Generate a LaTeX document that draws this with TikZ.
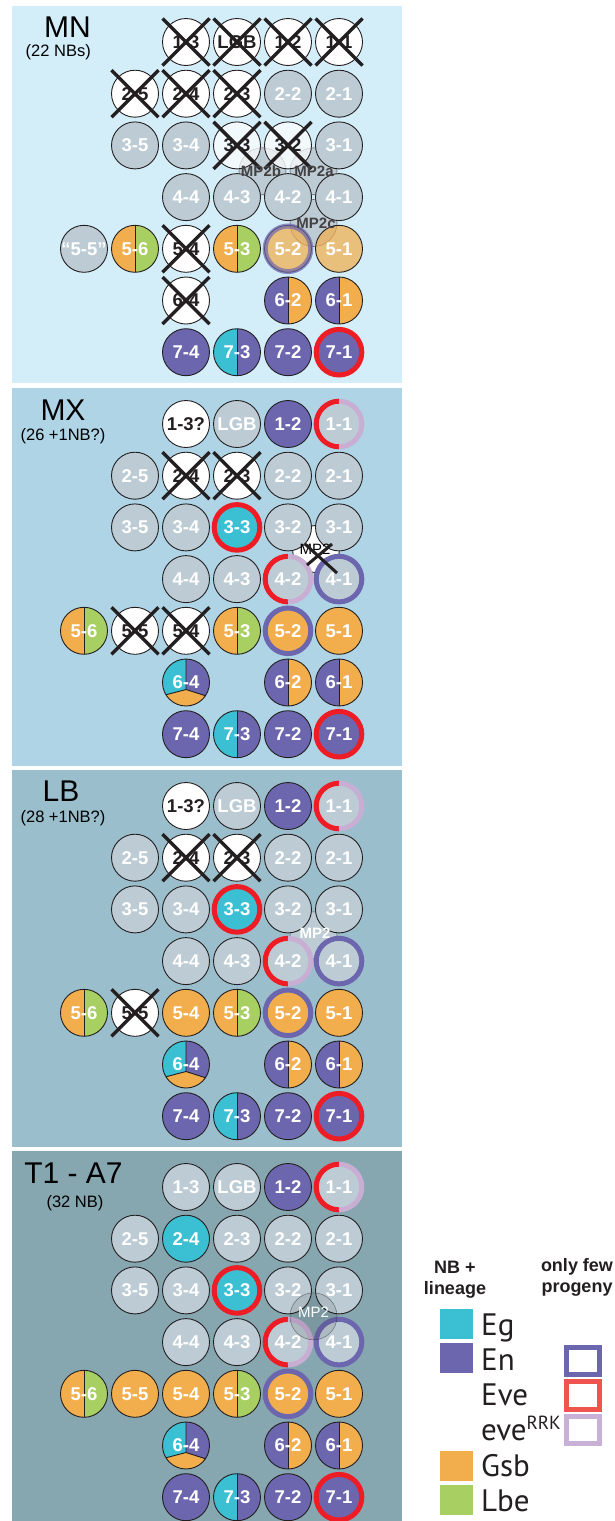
\documentclass[tikz,border=0pt]{standalone}
\usepackage{fontspec}
\setmainfont{Liberation Sans}
\newfontfamily\legfont{PT Sans}
\usetikzlibrary{calc}

\definecolor{bgmn}{HTML}{D3EEF9}
\definecolor{bgmx}{HTML}{AED4E6}
\definecolor{bglb}{HTML}{9BBECC}
\definecolor{bgta}{HTML}{86A6B0}
\definecolor{nbg}{HTML}{BDCCD4}
\definecolor{eg}{HTML}{3BC0D3}
\definecolor{en}{HTML}{6C66AE}
\definecolor{gsb}{HTML}{F2AE4C}
\definecolor{lbe}{HTML}{A7CF62}
\definecolor{eve}{HTML}{EE1D25}
\definecolor{rrk}{HTML}{C9AED4}
\definecolor{ink}{HTML}{231F20}
\definecolor{legred}{HTML}{F0544F}
\definecolor{legrrk}{HTML}{C8B0D6}

\def\cA{339}\def\cB{288}\def\cC{237}\def\cD{186}\def\cE{135}\def\cF{84}
\def\rA{42}\def\rB{93.7}\def\rC{145.4}\def\rD{197.1}\def\rE{248.8}\def\rF{300.5}\def\rG{352.2}

\tikzset{
  nb/.style={circle, draw=ink, line width=0.9pt, minimum size=47pt, inner sep=0pt,
    fill=nbg, text=white, font=\fontsize{18.5}{18.5}\selectfont\bfseries},
  nbw/.style={nb, fill=white, text=ink},
  nbp/.style={nb, fill=en},
  nbc/.style={nb, fill=eg},
  nbo/.style={nb, fill=gsb},
  fade/.style={fill opacity=#1, text opacity=1},
  halfc/.style 2 args={nb, fill=none, path picture={
    \fill[#1] (path picture bounding box.south west) rectangle (path picture bounding box.north);
    \fill[#2] (path picture bounding box.north) rectangle (path picture bounding box.south east);
    \draw[ink, line width=0.9pt] (path picture bounding box.north) -- (path picture bounding box.south);}},
  xline/.style={ink, line width=3.4pt},
  mp2/.style={circle, minimum size=47pt, inner sep=0pt, fill=nbg, draw=ink!70, line width=0.6pt},
  mplab/.style={font=\fontsize{15}{15}\selectfont\bfseries, inner sep=0pt},
  title/.style={font=\fontsize{30}{30}\selectfont, text=black, inner sep=0pt},
  sub/.style={font=\fontsize{16.5}{16.5}\selectfont, text=black, inner sep=0pt},
  legh/.style={font=\fontsize{18}{18}\selectfont\bfseries, text=ink, inner sep=0pt},
  legt/.style={font=\legfont\fontsize{31}{31}\selectfont, text=ink, inner sep=0pt, anchor=base west},
  sq/.style={minimum width=33pt, minimum height=30pt, inner sep=0pt},
  osq/.style={minimum width=33pt, minimum height=27.5pt, inner sep=0pt, line width=5pt, fill=white}
}

\newcommand\N[5]{\node[#1] (#2) at (#3,#4) {#5};}
\newcommand\X[1]{\draw[xline] ($(#1.center)+(-23.5pt,23.5pt)$) -- ($(#1.center)+(23.5pt,-23.5pt)$)
  ($(#1.center)+(23.5pt,23.5pt)$) -- ($(#1.center)+(-23.5pt,-23.5pt)$);}
\newcommand\R[2]{\draw[#1, line width=5pt] (#2.center) circle[radius=22.8pt];}
\newcommand\SR[1]{\draw[eve, line width=5pt] ($(#1.center)+(0pt,22.8pt)$) arc[start angle=90, end angle=270, radius=22.8pt];
  \draw[rrk, line width=5pt] ($(#1.center)+(0pt,-22.8pt)$) arc[start angle=-90, end angle=90, radius=22.8pt];}
% three-colour circle (Eg / En / Gsb)
\newcommand\TRI[3]{%
  \begin{scope}
    \clip (#2,#3) circle[radius=23.5pt];
    \fill[gsb] (#2,#3) circle[radius=25pt];
    \begin{scope}[shift={(#2,#3)}]
      \fill[eg] (0pt,-7pt) -- (0pt,30pt) -- (-30pt,30pt) -- (-30pt,-14.9pt) -- cycle;
      \fill[en] (0pt,-7pt) -- (0pt,30pt) -- (30pt,30pt) -- (30pt,-16.6pt) -- cycle;
      \draw[ink, line width=0.9pt] (0pt,30pt) -- (0pt,-7pt) -- (-30pt,-14.9pt) (0pt,-7pt) -- (30pt,-16.6pt);
    \end{scope}
  \end{scope}
  \node[nb, fill=none] (#1) at (#2,#3) {6-4};}

% rows common to MX, LB and T1 (rows 3,4,6,7)
\newcommand\common[1]{%
  \N{nb}{#135}{\cE}{\rC}{3-5}
  \N{nb}{#134}{\cD}{\rC}{3-4}
  \N{nbc}{#133}{\cC}{\rC}{3-3}
  \N{nb}{#132}{\cB}{\rC}{3-2}
  \N{nb}{#131}{\cA}{\rC}{3-1}
  \N{nb}{#144}{\cD}{\rD}{4-4}
  \N{nb}{#143}{\cC}{\rD}{4-3}
  \N{nb}{#142}{\cB}{\rD}{4-2}
  \N{nb}{#141}{\cA}{\rD}{4-1}
  \TRI{#164}{\cD}{\rF}
  \N{halfc={en}{gsb}}{#162}{\cB}{\rF}{6-2}
  \N{halfc={en}{gsb}}{#161}{\cA}{\rF}{6-1}
  \N{nbp}{#174}{\cD}{\rG}{7-4}
  \N{halfc={eg}{en}}{#173}{\cC}{\rG}{7-3}
  \N{nbp}{#172}{\cB}{\rG}{7-2}
  \N{nbp}{#171}{\cA}{\rG}{7-1}
  \N{halfc={gsb}{lbe}}{#156}{\cF}{\rE}{5-6}
  \N{halfc={gsb}{lbe}}{#153}{\cC}{\rE}{5-3}
  \N{nbo}{#152}{\cB}{\rE}{5-2}
  \N{nbo}{#151}{\cA}{\rE}{5-1}
  \R{eve}{#133}
  \SR{#142}
  \R{en}{#141}
  \R{en}{#152}
  \R{eve}{#171}
  \SR{#111}
}

\begin{document}
\begin{tikzpicture}[x=1pt, y=-1pt]
\fill[white] (0,0) rectangle (615,1521);
\useasboundingbox (0,0) rectangle (615,1521);

% ================= MN =================
\fill[bgmn] (12,6) rectangle (402,383);
\node[title, anchor=east] (tMN) at (91,27) {MN};
\node[sub, anchor=east] (sMN) at (91,52) {(22 NBs)};
\node[mp2] (ampb) at (262.5,171.3) {};
\node[mp2] (ampa) at (313.5,171.3) {};
\node[mp2] (ampc) at (313.5,223) {};
\N{nbw}{a13}{\cD}{\rA}{1-3}
\N{nbw}{aLGB}{\cC}{\rA}{LGB}
\N{nbw}{a12}{\cB}{\rA}{1-2}
\N{nbw}{a11}{\cA}{\rA}{1-1}
\N{nbw}{a25}{\cE}{\rB}{2-5}
\N{nbw}{a24}{\cD}{\rB}{2-4}
\N{nbw}{a23}{\cC}{\rB}{2-3}
\N{nb}{a22}{\cB}{\rB}{2-2}
\N{nb}{a21}{\cA}{\rB}{2-1}
\N{nb}{a35}{\cE}{\rC}{3-5}
\N{nb}{a34}{\cD}{\rC}{3-4}
\N{nbw,fade=0.7}{a33}{\cC}{\rC}{3-3}
\N{nbw,fade=0.7}{a32}{\cB}{\rC}{3-2}
\N{nb}{a31}{\cA}{\rC}{3-1}
\N{nb}{a44}{\cD}{\rD}{4-4}
\N{nb}{a43}{\cC}{\rD}{4-3}
\N{nb}{a42}{\cB}{\rD}{4-2}
\N{nb}{a41}{\cA}{\rD}{4-1}
\N{nb}{a55}{\cF}{\rE}{“5-5”}
\N{halfc={gsb}{lbe}}{a56}{\cE}{\rE}{5-6}
\N{nbw}{a54}{\cD}{\rE}{5-4}
\N{halfc={gsb}{lbe}}{a53}{\cC}{\rE}{5-3}
\N{nbo,fade=0.72}{a52}{\cB}{\rE}{5-2}
\N{nbo,fade=0.72}{a51}{\cA}{\rE}{5-1}
\N{nbw}{a64}{\cD}{\rF}{6-4}
\N{halfc={en}{gsb}}{a62}{\cB}{\rF}{6-2}
\N{halfc={en}{gsb}}{a61}{\cA}{\rF}{6-1}
\N{nbp}{a74}{\cD}{\rG}{7-4}
\N{halfc={eg}{en}}{a73}{\cC}{\rG}{7-3}
\N{nbp}{a72}{\cB}{\rG}{7-2}
\N{nbp}{a71}{\cA}{\rG}{7-1}
\draw[en, line width=5pt, opacity=0.7] (a52.center) circle[radius=22.8pt];
\R{eve}{a71}
\X{a13}\X{aLGB}\X{a12}\X{a11}\X{a25}\X{a24}\X{a23}\X{a33}\X{a32}\X{a54}\X{a64}
\node[mplab, text=ink!85] (lampb) at (261,171.3) {MP2b};
\node[mplab, text=ink!85] (lampa) at (314,171.3) {MP2a};
\node[mplab, text=ink!85] (lampc) at (316,223) {MP2c};

% ================= MX =================
\begin{scope}[yshift=-382pt]
\fill[bgmx] (12,6) rectangle (402,384);
\node[title] (tMX) at (63,28.5) {MX};
\node[sub] (sMX) at (63,54.5) {(26 +1NB?)};
\node[mp2, fill=white, draw=ink, line width=0.9pt] (bmp) at (316,167) {};
\N{nbw}{b13}{\cD}{\rA}{1-3?}
\N{nb}{bLGB}{\cC}{\rA}{LGB}
\N{nbp}{b12}{\cB}{\rA}{1-2}
\N{nb}{b11}{\cA}{\rA}{1-1}
\N{nb}{b25}{\cE}{\rB}{2-5}
\N{nbw}{b24}{\cD}{\rB}{2-4}
\N{nbw}{b23}{\cC}{\rB}{2-3}
\N{nb}{b22}{\cB}{\rB}{2-2}
\N{nb}{b21}{\cA}{\rB}{2-1}
\N{nbw}{b55}{\cE}{\rE}{5-5}
\N{nbw}{b54}{\cD}{\rE}{5-4}
\common{b}
\X{b24}\X{b23}\X{b55}\X{b54}
\node[mplab, text=black, font=\fontsize{15}{15}\selectfont] (lbmp) at (315,167) {MP2};
\draw[xline, line width=3pt] ($(bmp.center)+(-11pt,5pt)$) -- ($(bmp.center)+(21pt,-24pt)$)
  ($(bmp.center)+(16pt,5pt)$) -- ($(bmp.center)+(-9pt,-16pt)$);
\end{scope}

% ================= LB =================
\begin{scope}[yshift=-764pt]
\fill[bglb] (12,6) rectangle (402,383);
\node[title] (tLB) at (61,27.5) {LB};
\node[sub] (sLB) at (63,54) {(28 +1NB?)};
\node[mp2] (cmp) at (313.5,171.3) {};
\N{nbw}{c13}{\cD}{\rA}{1-3?}
\N{nb}{cLGB}{\cC}{\rA}{LGB}
\N{nbp}{c12}{\cB}{\rA}{1-2}
\N{nb}{c11}{\cA}{\rA}{1-1}
\N{nb}{c25}{\cE}{\rB}{2-5}
\N{nbw}{c24}{\cD}{\rB}{2-4}
\N{nbw}{c23}{\cC}{\rB}{2-3}
\N{nb}{c22}{\cB}{\rB}{2-2}
\N{nb}{c21}{\cA}{\rB}{2-1}
\N{nbw}{c55}{\cE}{\rE}{5-5}
\N{nbo}{c54}{\cD}{\rE}{5-4}
\common{c}
\X{c24}\X{c23}\X{c55}
\node[mplab, text=white] (lcmp) at (315,169) {MP2};
\end{scope}

% ================= T1 - A7 =================
\begin{scope}[yshift=-1145pt]
\fill[bgta] (12,6) rectangle (402,376);
\node[title] (tTA) at (73.5,28.5) {T1 - A7};
\node[sub] (sTA) at (75,58) {(32 NB)};
\N{nb}{d13}{\cD}{\rA}{1-3}
\N{nb}{dLGB}{\cC}{\rA}{LGB}
\N{nbp}{d12}{\cB}{\rA}{1-2}
\N{nb}{d11}{\cA}{\rA}{1-1}
\N{nb}{d25}{\cE}{\rB}{2-5}
\N{nbc}{d24}{\cD}{\rB}{2-4}
\N{nb}{d23}{\cC}{\rB}{2-3}
\N{nb}{d22}{\cB}{\rB}{2-2}
\N{nb}{d21}{\cA}{\rB}{2-1}
\N{nbo}{d55}{\cE}{\rE}{5-5}
\N{nbo}{d54}{\cD}{\rE}{5-4}
\common{d}
\node[mp2, fill=ink, fill opacity=0.1, draw=ink, draw opacity=0.45] (dmp) at (313.5,171.3) {};
\node[mplab, text=white, font=\fontsize{15}{15}\selectfont] (ldmp) at (313.5,167) {MP2};
\end{scope}

% ================= Legend =================
\node[legh] (lh1) at (455,1267) {NB +};
\node[legh] (lh2) at (455,1290) {lineage};
\node[legh] (lh3) at (577,1267) {only few};
\node[legh] (lh4) at (577,1290) {progeny};
\node[sq, fill=eg] (kEg) at (456.5,1324) {};
\node[sq, fill=en] (kEn) at (456.5,1358) {};
\node[sq, fill=gsb] (kGsb) at (456.5,1466) {};
\node[sq, fill=lbe] (kLbe) at (456.5,1500) {};
\node[legt] (lEg) at (481,1335) {Eg};
\node[legt] (lEn) at (481,1370) {En};
\node[legt] (lEve) at (481,1405) {Eve};
\node[legt] (lRRK) at (481,1440) {eve\raisebox{11pt}{\fontsize{19}{19}\selectfont RRK}};
\node[legt] (lGsb) at (481,1476) {Gsb};
\node[legt] (lLbe) at (481,1511.5) {Lbe};
\node[osq, draw=en] (oEn) at (583,1361) {};
\node[osq, draw=legred] (oEve) at (583,1395.5) {};
\node[osq, draw=legrrk] (oRRK) at (583,1430) {};
\end{tikzpicture}
\end{document}
